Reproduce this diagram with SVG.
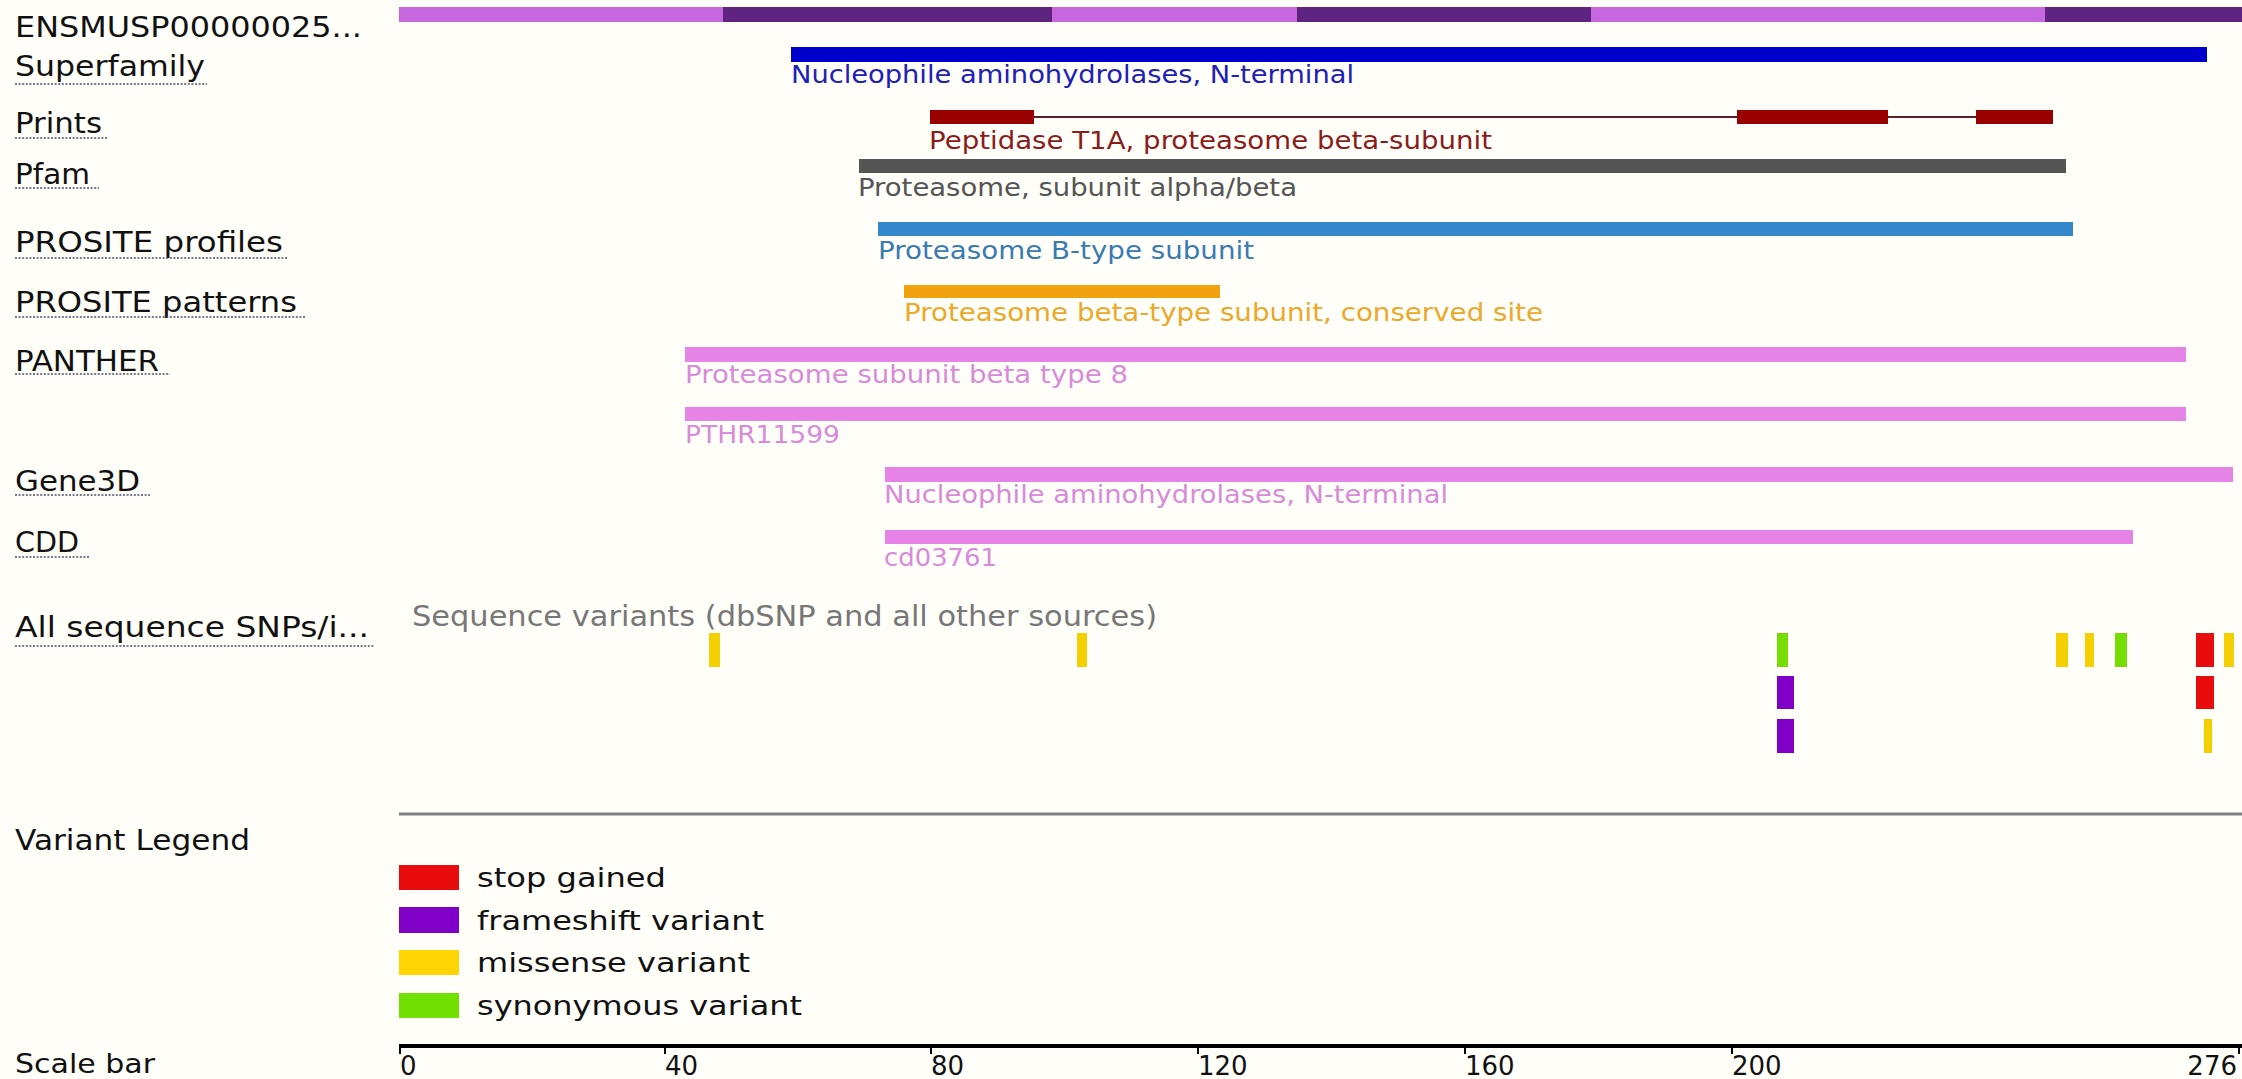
<svg xmlns="http://www.w3.org/2000/svg" width="2242" height="1079" viewBox="0 0 2242 1079">
<style>
.lbl{font-family:"DejaVu Sans",Verdana,sans-serif;font-size:29px;fill:#111}
.trk{font-family:"DejaVu Sans",Verdana,sans-serif;font-size:25.5px}
.leg{font-family:"DejaVu Sans",Verdana,sans-serif;font-size:26px;fill:#111}
.num{font-family:"DejaVu Sans",Verdana,sans-serif;font-size:26px;fill:#111}
.ul{stroke:#4a4f66;stroke-width:1.6;stroke-dasharray:2 1.6;fill:none}
.pink{fill:#e683e6}
.pinkt{fill:#d98ad9}
.mis{fill:#f5d000}
.syn{fill:#76dd00}
.stop{fill:#e80c0c}
.fs{fill:#8000c8}
</style>
<rect width="2242" height="1079" fill="#fffef9"/>

<g id="protein">
<text class="lbl" x="15" y="37" textLength="347" lengthAdjust="spacingAndGlyphs">ENSMUSP00000025...</text>
<rect x="399" y="7" width="324" height="15" fill="#c667e0"/>
<rect x="723" y="7" width="329" height="15" fill="#5f2480"/>
<rect x="1052" y="7" width="245" height="15" fill="#c667e0"/>
<rect x="1297" y="7" width="294" height="15" fill="#5f2480"/>
<rect x="1591" y="7" width="454" height="15" fill="#c667e0"/>
<rect x="2045" y="7" width="197" height="15" fill="#5f2480"/>
</g>

<g id="superfamily">
<text class="lbl" x="15" y="76" textLength="190" lengthAdjust="spacingAndGlyphs">Superfamily</text>
<line class="ul" x1="15" y1="84" x2="207" y2="84"/>
<rect x="791" y="47" width="1416" height="15" fill="#0000cc"/>
<text class="trk" x="791" y="83" fill="#2020b8" textLength="563" lengthAdjust="spacingAndGlyphs">Nucleophile aminohydrolases, N-terminal</text>
</g>

<g id="prints">
<text class="lbl" x="15" y="133" textLength="87" lengthAdjust="spacingAndGlyphs">Prints</text>
<line class="ul" x1="15" y1="138" x2="107" y2="138"/>
<line x1="930" y1="117" x2="2053" y2="117" stroke="#5a2222" stroke-width="2"/>
<rect x="930" y="110" width="104" height="14" fill="#990000"/>
<rect x="1737" y="110" width="151" height="14" fill="#990000"/>
<rect x="1976" y="110" width="77" height="14" fill="#990000"/>
<text class="trk" x="929" y="149" fill="#8a1c1c" textLength="563" lengthAdjust="spacingAndGlyphs">Peptidase T1A, proteasome beta-subunit</text>
</g>

<g id="pfam">
<text class="lbl" x="15" y="184" textLength="75" lengthAdjust="spacingAndGlyphs">Pfam</text>
<line class="ul" x1="15" y1="188" x2="99" y2="188"/>
<rect x="859" y="159" width="1207" height="14" fill="#555555"/>
<text class="trk" x="858" y="196" fill="#555555" textLength="439" lengthAdjust="spacingAndGlyphs">Proteasome, subunit alpha/beta</text>
</g>

<g id="prosite-profiles">
<text class="lbl" x="15" y="252" textLength="268" lengthAdjust="spacingAndGlyphs">PROSITE profiles</text>
<line class="ul" x1="15" y1="258" x2="288" y2="258"/>
<rect x="878" y="222" width="1195" height="14" fill="#3388cc"/>
<text class="trk" x="878" y="259" fill="#3a7ab2" textLength="376" lengthAdjust="spacingAndGlyphs">Proteasome B-type subunit</text>
</g>

<g id="prosite-patterns">
<text class="lbl" x="15" y="312" textLength="282" lengthAdjust="spacingAndGlyphs">PROSITE patterns</text>
<line class="ul" x1="15" y1="317" x2="305" y2="317"/>
<rect x="904" y="285" width="316" height="13" fill="#f0a30f"/>
<text class="trk" x="904" y="321" fill="#eca828" textLength="639" lengthAdjust="spacingAndGlyphs">Proteasome beta-type subunit, conserved site</text>
</g>

<g id="panther">
<text class="lbl" x="15" y="371" textLength="144" lengthAdjust="spacingAndGlyphs">PANTHER</text>
<line class="ul" x1="15" y1="374" x2="170" y2="374"/>
<rect class="pink" x="685" y="347" width="1501" height="15"/>
<text class="trk pinkt" x="685" y="383" textLength="443" lengthAdjust="spacingAndGlyphs">Proteasome subunit beta type 8</text>
<rect class="pink" x="685" y="407" width="1501" height="14"/>
<text class="trk pinkt" x="685" y="443" textLength="155" lengthAdjust="spacingAndGlyphs">PTHR11599</text>
</g>

<g id="gene3d">
<text class="lbl" x="15" y="491" textLength="125" lengthAdjust="spacingAndGlyphs">Gene3D</text>
<line class="ul" x1="15" y1="495" x2="150" y2="495"/>
<rect class="pink" x="885" y="467" width="1348" height="15"/>
<text class="trk pinkt" x="884" y="503" textLength="564" lengthAdjust="spacingAndGlyphs">Nucleophile aminohydrolases, N-terminal</text>
</g>

<g id="cdd">
<text class="lbl" x="15" y="552" textLength="64" lengthAdjust="spacingAndGlyphs">CDD</text>
<line class="ul" x1="15" y1="557" x2="90" y2="557"/>
<rect class="pink" x="885" y="530" width="1248" height="14"/>
<text class="trk pinkt" x="884" y="566" textLength="113" lengthAdjust="spacingAndGlyphs">cd03761</text>
</g>

<g id="variants">
<text class="lbl" x="15" y="637" textLength="354" lengthAdjust="spacingAndGlyphs">All sequence SNPs/i...</text>
<line class="ul" x1="15" y1="646" x2="375" y2="646"/>
<text x="412" y="626" font-family="DejaVu Sans,Verdana,sans-serif" font-size="28" fill="#777777" textLength="745" lengthAdjust="spacingAndGlyphs">Sequence variants (dbSNP and all other sources)</text>
<rect class="mis" x="709" y="633" width="11" height="34"/>
<rect class="mis" x="1077" y="633" width="10" height="34"/>
<rect class="syn" x="1777" y="633" width="11" height="34"/>
<rect class="fs" x="1777" y="676" width="17" height="33"/>
<rect class="fs" x="1777" y="719" width="17" height="34"/>
<rect class="mis" x="2056" y="633" width="12" height="34"/>
<rect class="mis" x="2085" y="633" width="9" height="34"/>
<rect class="syn" x="2115" y="633" width="12" height="34"/>
<rect class="stop" x="2196" y="633" width="18" height="34"/>
<rect class="stop" x="2196" y="676" width="18" height="33"/>
<rect class="mis" x="2204" y="719" width="8" height="34"/>
<rect class="mis" x="2224" y="633" width="10" height="34"/>
</g>

<line x1="399" y1="814" x2="2242" y2="814" stroke="#808080" stroke-width="3"/>

<g id="legend">
<text class="lbl" x="15" y="850" textLength="235" lengthAdjust="spacingAndGlyphs">Variant Legend</text>
<rect class="stop" x="399" y="865" width="60" height="25"/>
<text class="leg" x="477" y="887" textLength="189" lengthAdjust="spacingAndGlyphs">stop gained</text>
<rect class="fs" x="399" y="907" width="60" height="26"/>
<text class="leg" x="477" y="930" textLength="287" lengthAdjust="spacingAndGlyphs">frameshift variant</text>
<rect x="399" y="950" width="60" height="25" fill="#ffd400"/>
<text class="leg" x="477" y="972" textLength="273" lengthAdjust="spacingAndGlyphs">missense variant</text>
<rect x="399" y="993" width="60" height="25" fill="#70e000"/>
<text class="leg" x="477" y="1015" textLength="325" lengthAdjust="spacingAndGlyphs">synonymous variant</text>
</g>

<g id="scalebar">
<text class="lbl" x="15" y="1073" font-size="27" style="font-size:27px" textLength="140" lengthAdjust="spacingAndGlyphs">Scale bar</text>
<rect x="399" y="1044" width="1843" height="4" fill="#000"/>
<g stroke="#000" stroke-width="2">
<line x1="400" y1="1044" x2="400" y2="1054"/>
<line x1="665" y1="1044" x2="665" y2="1054"/>
<line x1="931" y1="1044" x2="931" y2="1054"/>
<line x1="1198" y1="1044" x2="1198" y2="1054"/>
<line x1="1465" y1="1044" x2="1465" y2="1054"/>
<line x1="1732" y1="1044" x2="1732" y2="1054"/>
<line x1="2239" y1="1044" x2="2239" y2="1054"/>
</g>
<text class="num" x="400" y="1075">0</text>
<text class="num" x="665" y="1075">40</text>
<text class="num" x="931" y="1075">80</text>
<text class="num" x="1198" y="1075">120</text>
<text class="num" x="1465" y="1075">160</text>
<text class="num" x="1732" y="1075">200</text>
<text class="num" x="2237" y="1075" text-anchor="end">276</text>
</g>
</svg>
